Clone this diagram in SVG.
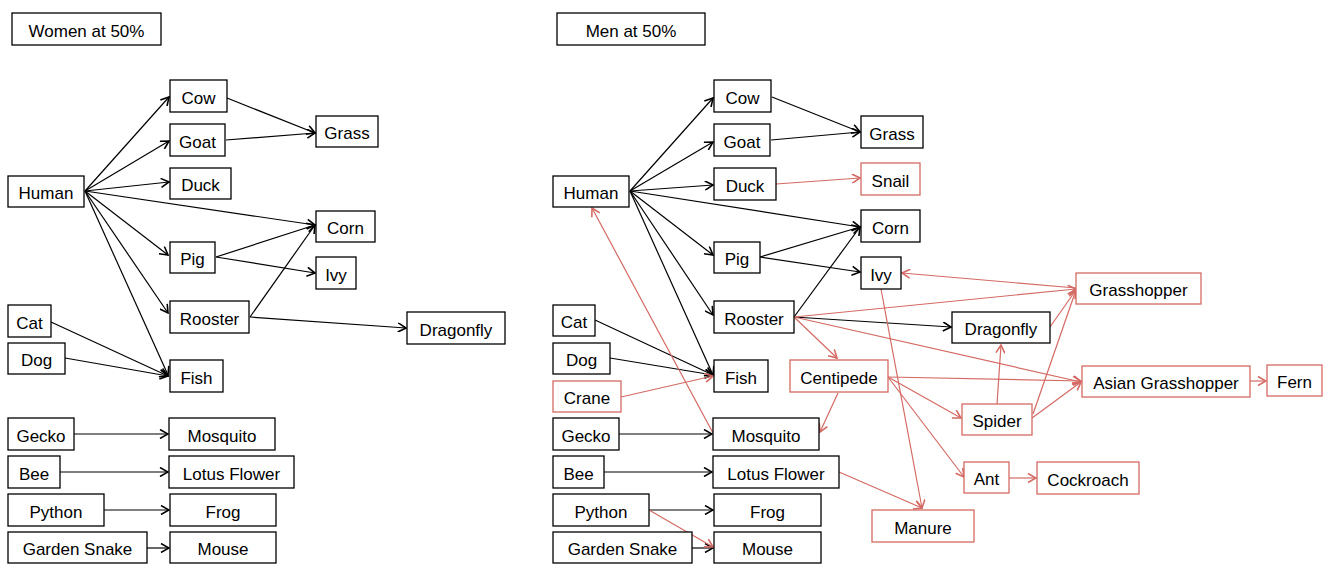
<svg xmlns="http://www.w3.org/2000/svg" width="1327" height="564" viewBox="0 0 1327 564">
<style>
.n rect{fill:#fff;stroke:#000;stroke-width:1.3}
.r rect{fill:#fff;stroke:#d46a64;stroke-width:1.3}
text{font-family:"Liberation Sans",Arial,sans-serif;font-size:17px;fill:#000;text-anchor:middle}
.k line{stroke:#000;stroke-width:1.2;fill:none;marker-end:url(#ak)}
.e line{stroke:#d46a64;stroke-width:1.2;fill:none;marker-end:url(#ar)}
</style>
<defs>
<marker id="ak" viewBox="0 0 10 10" refX="9" refY="5" markerWidth="10" markerHeight="10" markerUnits="userSpaceOnUse" orient="auto">
<path d="M1,0.5 L9,5 L1,9.5" fill="none" stroke="#000" stroke-width="1.6"/>
</marker>
<marker id="ar" viewBox="0 0 10 10" refX="9" refY="5" markerWidth="10" markerHeight="10" markerUnits="userSpaceOnUse" orient="auto">
<path d="M1,0.5 L9,5 L1,9.5" fill="none" stroke="#d46a64" stroke-width="1.6"/>
</marker>
</defs>
<rect width="1327" height="564" fill="#fff"/>

<g id="connectors">
<g class="k">
<line x1="85" y1="191" x2="169" y2="97"/>
<line x1="85" y1="191" x2="169" y2="141"/>
<line x1="85" y1="191" x2="169" y2="182"/>
<line x1="85" y1="191" x2="315" y2="225"/>
<line x1="85" y1="191" x2="168" y2="255"/>
<line x1="85" y1="191" x2="168" y2="313"/>
<line x1="85" y1="191" x2="168" y2="375"/>
<line x1="227" y1="98" x2="315" y2="133"/>
<line x1="226" y1="140" x2="315" y2="133"/>
<line x1="216" y1="257" x2="315" y2="225"/>
<line x1="216" y1="257" x2="315" y2="273"/>
<line x1="250" y1="317" x2="315" y2="225"/>
<line x1="250" y1="317" x2="406" y2="328"/>
<line x1="51" y1="322" x2="168" y2="376"/>
<line x1="65" y1="358" x2="168" y2="376"/>
<line x1="74" y1="434" x2="168" y2="434"/>
<line x1="60" y1="472" x2="168" y2="472"/>
<line x1="104" y1="510" x2="169" y2="510"/>
<line x1="147" y1="548" x2="169" y2="548"/>
<line x1="630" y1="191" x2="713" y2="98"/>
<line x1="630" y1="191" x2="713" y2="142"/>
<line x1="630" y1="191" x2="713" y2="185"/>
<line x1="630" y1="191" x2="860" y2="227"/>
<line x1="630" y1="191" x2="713" y2="255"/>
<line x1="630" y1="191" x2="713" y2="315"/>
<line x1="630" y1="191" x2="713" y2="375"/>
<line x1="772" y1="97" x2="860" y2="132"/>
<line x1="771" y1="140" x2="860" y2="132"/>
<line x1="760" y1="257" x2="860" y2="227"/>
<line x1="760" y1="257" x2="860" y2="272"/>
<line x1="794" y1="317" x2="860" y2="227"/>
<line x1="794" y1="317" x2="951" y2="327"/>
<line x1="595" y1="320" x2="713" y2="375"/>
<line x1="610" y1="358" x2="713" y2="375"/>
<line x1="619" y1="434" x2="712" y2="434"/>
<line x1="604" y1="472" x2="712" y2="472"/>
<line x1="649" y1="510" x2="713" y2="510"/>
<line x1="692" y1="548" x2="713" y2="548"/>
</g>
<g class="e">
<line x1="776" y1="184" x2="860" y2="178"/>
<line x1="713" y1="433" x2="592" y2="208"/>
<line x1="621" y1="397" x2="713" y2="376"/>
<line x1="794" y1="317" x2="837" y2="358"/>
<line x1="794" y1="317" x2="1076" y2="289"/>
<line x1="794" y1="317" x2="1081" y2="382"/>
<line x1="1076" y1="288" x2="902" y2="273"/>
<line x1="881" y1="289" x2="922" y2="508"/>
<line x1="839" y1="472" x2="922" y2="508"/>
<line x1="838" y1="393" x2="820" y2="432"/>
<line x1="888" y1="377" x2="1081" y2="381"/>
<line x1="888" y1="377" x2="961" y2="418"/>
<line x1="888" y1="377" x2="964" y2="477"/>
<line x1="997" y1="404" x2="1001" y2="345"/>
<line x1="1032" y1="418" x2="1081" y2="382"/>
<line x1="1033" y1="414" x2="1076" y2="290"/>
<line x1="1050" y1="327" x2="1076" y2="290"/>
<line x1="1250" y1="381" x2="1266" y2="381"/>
<line x1="1009" y1="478" x2="1036" y2="478"/>
<line x1="649" y1="510" x2="713" y2="547"/>
</g>
</g>

<g id="women" class="n"><rect x="12" y="13" width="149" height="32"/><text x="86.5" y="36.5">Women at 50%</text></g>
<g id="l-human" class="n"><rect x="8" y="176" width="76" height="31"/><text x="46" y="199">Human</text></g>
<g id="l-cow" class="n"><rect x="170" y="80" width="57" height="32"/><text x="198.5" y="103.5">Cow</text></g>
<g id="l-goat" class="n"><rect x="170" y="124" width="55" height="32"/><text x="197.5" y="147.5">Goat</text></g>
<g id="l-duck" class="n"><rect x="170" y="168" width="61" height="31"/><text x="200.5" y="191">Duck</text></g>
<g id="l-grass" class="n"><rect x="316" y="116" width="62" height="31"/><text x="347" y="139">Grass</text></g>
<g id="l-corn" class="n"><rect x="316" y="211" width="59" height="31"/><text x="345.5" y="234">Corn</text></g>
<g id="l-pig" class="n"><rect x="170" y="242" width="45" height="31"/><text x="192.5" y="265">Pig</text></g>
<g id="l-ivy" class="n"><rect x="316" y="257" width="40" height="32"/><text x="336" y="280.5">Ivy</text></g>
<g id="l-rooster" class="n"><rect x="170" y="301" width="79" height="32"/><text x="209.5" y="324.5">Rooster</text></g>
<g id="l-dragonfly" class="n"><rect x="407" y="312" width="98" height="32"/><text x="456" y="335.5">Dragonfly</text></g>
<g id="l-cat" class="n"><rect x="8" y="305" width="43" height="32"/><text x="29.5" y="328.5">Cat</text></g>
<g id="l-dog" class="n"><rect x="8" y="343" width="57" height="31"/><text x="36.5" y="366">Dog</text></g>
<g id="l-fish" class="n"><rect x="170" y="360" width="53" height="32"/><text x="196.5" y="383.5">Fish</text></g>
<g id="l-gecko" class="n"><rect x="8" y="418" width="66" height="32"/><text x="41" y="441.5">Gecko</text></g>
<g id="l-mosquito" class="n"><rect x="169" y="418" width="106" height="32"/><text x="222" y="441.5">Mosquito</text></g>
<g id="l-bee" class="n"><rect x="8" y="456" width="52" height="32"/><text x="34" y="479.5">Bee</text></g>
<g id="l-lotus" class="n"><rect x="169" y="456" width="125" height="32"/><text x="231.5" y="479.5">Lotus Flower</text></g>
<g id="l-python" class="n"><rect x="8" y="494" width="96" height="32"/><text x="56" y="517.5">Python</text></g>
<g id="l-frog" class="n"><rect x="170" y="494" width="106" height="32"/><text x="223" y="517.5">Frog</text></g>
<g id="l-gsnake" class="n"><rect x="8" y="532" width="139" height="31"/><text x="77.5" y="555">Garden Snake</text></g>
<g id="l-mouse" class="n"><rect x="170" y="532" width="106" height="31"/><text x="223" y="555">Mouse</text></g>

<g id="men" class="n"><rect x="557" y="13" width="148" height="32"/><text x="631" y="36.5">Men at 50%</text></g>
<g id="r-human" class="n"><rect x="553" y="176" width="76" height="31"/><text x="591" y="199">Human</text></g>
<g id="r-cow" class="n"><rect x="714" y="80" width="57" height="32"/><text x="742.5" y="103.5">Cow</text></g>
<g id="r-goat" class="n"><rect x="714" y="124" width="56" height="32"/><text x="742" y="147.5">Goat</text></g>
<g id="r-duck" class="n"><rect x="714" y="168" width="62" height="32"/><text x="745" y="191.5">Duck</text></g>
<g id="r-grass" class="n"><rect x="861" y="116" width="62" height="32"/><text x="892" y="139.5">Grass</text></g>
<g id="r-snail" class="r"><rect x="861" y="163" width="59" height="32"/><text x="890.5" y="186.5">Snail</text></g>
<g id="r-corn" class="n"><rect x="861" y="210" width="59" height="32"/><text x="890.5" y="233.5">Corn</text></g>
<g id="r-pig" class="n"><rect x="714" y="242" width="46" height="31"/><text x="737" y="265">Pig</text></g>
<g id="r-ivy" class="n"><rect x="861" y="257" width="40" height="32"/><text x="881" y="280.5">Ivy</text></g>
<g id="r-rooster" class="n"><rect x="714" y="301" width="80" height="32"/><text x="754" y="324.5">Rooster</text></g>
<g id="r-cat" class="n"><rect x="553" y="305" width="42" height="31"/><text x="574" y="328">Cat</text></g>
<g id="r-dog" class="n"><rect x="553" y="343" width="57" height="31"/><text x="581.5" y="366">Dog</text></g>
<g id="r-crane" class="r"><rect x="553" y="381" width="68" height="31"/><text x="587" y="404">Crane</text></g>
<g id="r-fish" class="n"><rect x="714" y="360" width="54" height="32"/><text x="741" y="383.5">Fish</text></g>
<g id="r-centipede" class="r"><rect x="790" y="360" width="98" height="32"/><text x="839" y="383.5">Centipede</text></g>
<g id="r-gecko" class="n"><rect x="553" y="418" width="66" height="32"/><text x="586" y="441.5">Gecko</text></g>
<g id="r-mosquito" class="n"><rect x="713" y="418" width="106" height="32"/><text x="766" y="441.5">Mosquito</text></g>
<g id="r-bee" class="n"><rect x="553" y="456" width="51" height="32"/><text x="578.5" y="479.5">Bee</text></g>
<g id="r-lotus" class="n"><rect x="713" y="456" width="126" height="32"/><text x="776" y="479.5">Lotus Flower</text></g>
<g id="r-python" class="n"><rect x="553" y="494" width="96" height="32"/><text x="601" y="517.5">Python</text></g>
<g id="r-frog" class="n"><rect x="714" y="494" width="107" height="32"/><text x="767.5" y="517.5">Frog</text></g>
<g id="r-gsnake" class="n"><rect x="553" y="532" width="139" height="31"/><text x="622.5" y="555">Garden Snake</text></g>
<g id="r-mouse" class="n"><rect x="714" y="532" width="107" height="31"/><text x="767.5" y="555">Mouse</text></g>
<g id="r-manure" class="r"><rect x="872" y="510" width="102" height="32"/><text x="923" y="533.5">Manure</text></g>
<g id="r-grasshopper" class="r"><rect x="1076" y="273" width="125" height="31"/><text x="1138.5" y="296">Grasshopper</text></g>
<g id="r-dragonfly" class="n"><rect x="952" y="312" width="98" height="31"/><text x="1001" y="335">Dragonfly</text></g>
<g id="r-asian" class="r"><rect x="1082" y="366" width="168" height="31"/><text x="1166" y="389">Asian Grasshopper</text></g>
<g id="r-fern" class="r"><rect x="1267" y="365" width="55" height="31"/><text x="1294.5" y="388">Fern</text></g>
<g id="r-spider" class="r"><rect x="962" y="404" width="70" height="31"/><text x="997" y="427">Spider</text></g>
<g id="r-ant" class="r"><rect x="964" y="462" width="45" height="31"/><text x="986.5" y="485">Ant</text></g>
<g id="r-cockroach" class="r"><rect x="1037" y="462" width="102" height="32"/><text x="1088" y="485.5">Cockroach</text></g>
</svg>
